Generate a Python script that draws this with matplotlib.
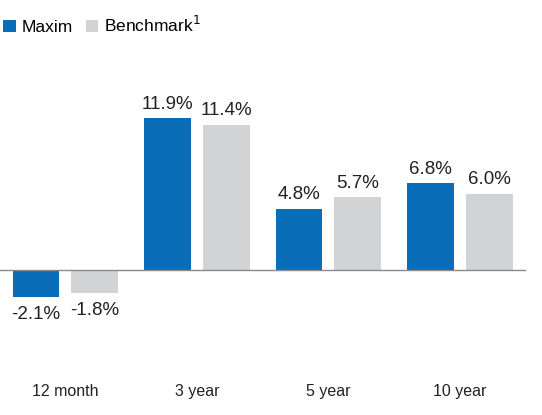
import matplotlib
matplotlib.use("Agg")
import matplotlib.pyplot as plt
import numpy as np

categories = ["12 month", "3 year", "5 year", "10 year"]
maxim = [-2.1, 11.9, 4.8, 6.8]
benchmark = [-1.8, 11.4, 5.7, 6.0]
series_names = ["Maxim", "Benchmark$^{1}$"]

BLUE = "#0A6DB7"
GRAY = "#D2D3D5"

plt.rcParams['font.family'] = ['Liberation Sans', 'DejaVu Sans']

fig = plt.figure(figsize=(5.42, 4.15), dpi=100)
ax = fig.add_axes([0, 0, 1, 1])
ax.set_axis_off()

x = np.arange(len(categories))
w = 0.357
off = 0.224
b1 = ax.bar(x - off, maxim, w, color=BLUE, label=series_names[0])
b2 = ax.bar(x + off, benchmark, w, color=GRAY, label=series_names[1])

ax.set_xlim(-0.498, 3.624)
ax.set_ylim(-11.37, 21.18)
ax.axhline(0, xmin=0, xmax=525/542, color="#8a8a8a", lw=1.0, zorder=3)

for bars, vals in ((b1, maxim), (b2, benchmark)):
    for rect, v in zip(bars, vals):
        cx = rect.get_x() + rect.get_width() / 2
        if v >= 0:
            ax.annotate(f"{v:.1f}%", (cx, v), xytext=(0, 4), textcoords="offset points",
                        ha="center", va="bottom", fontsize=13.5, color="#222222")
        else:
            ax.annotate(f"{v:.1f}%", (cx, v), xytext=(0, -6.5), textcoords="offset points",
                        ha="center", va="top", fontsize=13.5, color="#222222")

trans = matplotlib.transforms.blended_transform_factory(ax.transData, ax.transAxes)
for xi, c in zip(x, categories):
    ax.text(xi, (415 - 391) / 415, c, transform=trans, ha="center", va="center",
            fontsize=11.5, color="#222222")

fig.legend(handles=[b1, b2], loc="upper left", bbox_to_anchor=(0.0, 0.972), ncol=2,
           frameon=False, fontsize=12.5, handlelength=0.7, handleheight=0.7,
           handletextpad=0.35, columnspacing=0.75, borderaxespad=0, borderpad=0.2)

fig.savefig("out.png", dpi=100)
